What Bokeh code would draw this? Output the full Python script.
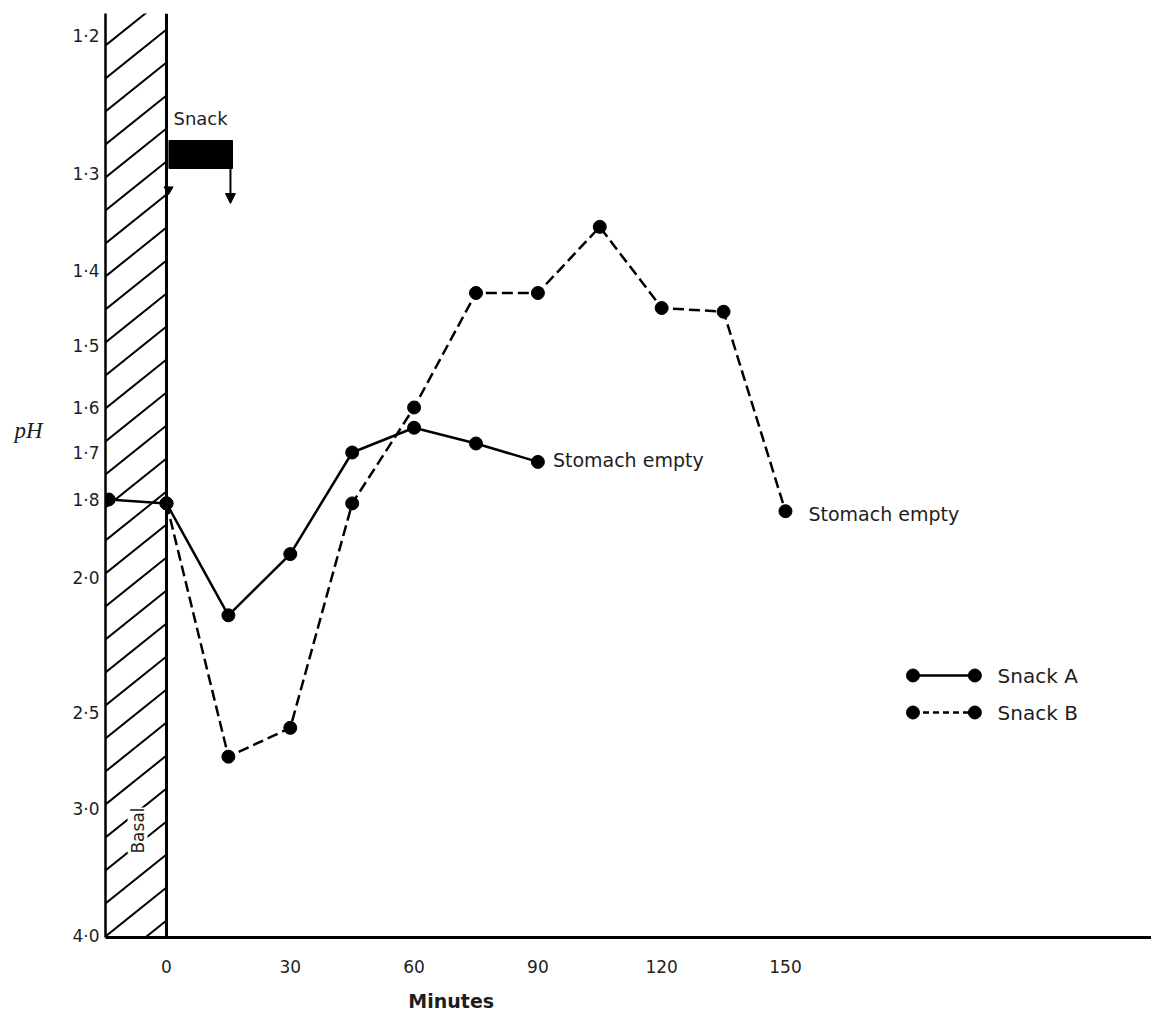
import numpy as np
from bokeh.plotting import figure
from bokeh.models import Range1d, FixedTicker, Label, Arrow, NormalHead, Span, LinearAxis
from bokeh.embed import file_html
from bokeh.resources import INLINE
from bokeh.core.properties import value

# ---------------- data ----------------
minutes_a = [-14, 0, 15, 30, 45, 60, 75, 90]
ph_a = [1.80, 1.81, 2.14, 1.94, 1.70, 1.645, 1.68, 1.72]

minutes_b = [0, 15, 30, 45, 60, 75, 90, 105, 120, 135, 150]
ph_b = [1.81, 2.73, 2.58, 1.81, 1.60, 1.43, 1.43, 1.355, 1.45, 1.455, 1.83]

ph_ticks = [1.2, 1.3, 1.4, 1.5, 1.6, 1.7, 1.8, 2.0, 2.5, 3.0, 4.0]
ph_tick_labels = ["1·2", "1·3", "1·4", "1·5", "1·6", "1·7", "1·8", "2·0", "2·5", "3·0", "4·0"]
minute_ticks = [0, 30, 60, 90, 120, 150]
series_names = ["Snack A", "Snack B"]
end_note = "Stomach empty"

# ------------- the figure's own (non-linear) pH scale -------------
# scale position of each pH tick on the original axis (grows downward)
PH_SCALE_STOPS = [35, 173, 270, 345, 407, 452, 499, 577, 712, 808, 935]


def ph_scale(v):
    return np.interp(v, ph_ticks, PH_SCALE_STOPS)


SANS = "DejaVu Sans"
SERIF = "Liberation Serif"
INK = "#1e1e1e"

x_start = -14.78
p = figure(width=1151, height=1018,
           x_range=Range1d(x_start, 238.7), y_range=Range1d(937, 13),
           output_backend="svg", toolbar_location=None,
           min_border_left=105, min_border_right=0,
           min_border_top=13, min_border_bottom=81)
p.outline_line_color = None
p.xgrid.visible = False
p.ygrid.visible = False
p.background_fill_color = "white"


def bare(axis):
    axis.major_tick_out = 0
    axis.major_tick_in = 0
    axis.minor_tick_out = 0
    axis.minor_tick_in = 0
    axis.major_label_text_color = INK


# axes
p.yaxis.ticker = FixedTicker(ticks=PH_SCALE_STOPS)
p.yaxis.major_label_overrides = {s: lab for s, lab in zip(PH_SCALE_STOPS, ph_tick_labels)}
p.yaxis.axis_line_width = 2.5
bare(p.yaxis[0])
p.yaxis.major_label_standoff = 6
p.yaxis.major_label_text_font = SANS
p.yaxis.major_label_text_font_size = "17px"

p.xaxis.ticker = FixedTicker(ticks=minute_ticks)
p.xaxis.axis_line_width = 3
bare(p.xaxis[0])
p.xaxis.major_label_standoff = 22
p.xaxis.major_label_text_font = SANS
p.xaxis.major_label_text_font_size = "17px"

# axis titles placed as single-tick label axes
minutes_title_pos = 69
ph_title_pos = 430
xt = LinearAxis(ticker=FixedTicker(ticks=[minutes_title_pos]),
                major_label_overrides={minutes_title_pos: "Minutes"},
                axis_line_color=None, major_label_standoff=14,
                major_label_text_font=SANS, major_label_text_font_style="bold",
                major_label_text_font_size="19px")
bare(xt)
p.add_layout(xt, "below")
yt = LinearAxis(ticker=FixedTicker(ticks=[ph_title_pos]),
                major_label_overrides={ph_title_pos: "pH"},
                axis_line_color=None, major_label_standoff=27,
                major_label_text_font=SERIF, major_label_text_font_style="italic",
                major_label_text_font_size="23px")
bare(yt)
p.add_layout(yt, "left")

# basal hatched band
y0 = np.arange(45 - 33 * 3, 937 + 80, 33)
p.segment(x0=[x_start] * len(y0), y0=y0, x1=[0] * len(y0), y1=y0 - 49,
          line_color="black", line_width=2)
p.add_layout(Span(location=0, dimension="height", line_color="black", line_width=3))
p.add_layout(Label(x=-7.0, y=830, text="Basal", angle=np.pi / 2,
                   text_align="center", text_baseline="middle",
                   text_font=SANS, text_font_size="17px", text_color=INK,
                   background_fill_color="white"))

# snack bar and arrows
p.quad(left=[0.6], right=[16.0], top=[140], bottom=[168], color="black")
p.add_layout(Label(x=1.7, y=118, text="Snack", text_baseline="middle",
                   text_font=SANS, text_font_size="18px", text_color=INK))
p.add_layout(Arrow(end=NormalHead(size=10, fill_color="black", line_color="black"),
                   x_start=15.5, y_start=166, x_end=15.5, y_end=203,
                   line_color="black", line_width=2))
p.scatter([0.5], [189], marker="inverted_triangle", size=9, color="black")

# series
ya = ph_scale(ph_a)
yb = ph_scale(ph_b)
p.line(minutes_a, ya, line_color="black", line_width=2.5)
p.scatter(minutes_a, ya, size=13, color="black")
p.line(minutes_b, yb, line_color="black", line_width=2.5, line_dash="11 5")
p.scatter(minutes_b, yb, size=13, color="black")

p.text(x=[minutes_a[-1]], y=[ya[-1]], text=[end_note], x_offset=15, y_offset=-2,
       text_baseline="middle", text_font=value(SANS), text_font_size="19px",
       text_color=INK)
p.text(x=[minutes_b[-1]], y=[yb[-1]], text=[end_note], x_offset=23, y_offset=3,
       text_baseline="middle", text_font=value(SANS), text_font_size="19px",
       text_color=INK)

# hand-drawn legend
lx0, lx1, ltx = 180.9, 195.9, 201.4
for name, ly, dash in zip(series_names, [675, 712], ["solid", "6 4"]):
    p.line([lx0, lx1], [ly, ly], line_color="black", line_width=2.5, line_dash=dash)
    p.scatter([lx0, lx1], [ly, ly], size=13, color="black")
    p.text(x=[ltx], y=[ly], text=[name], text_baseline="middle",
           text_font=value(SANS), text_font_size="20px", text_color=INK)

open("out.html", "w").write(file_html(p, INLINE))
